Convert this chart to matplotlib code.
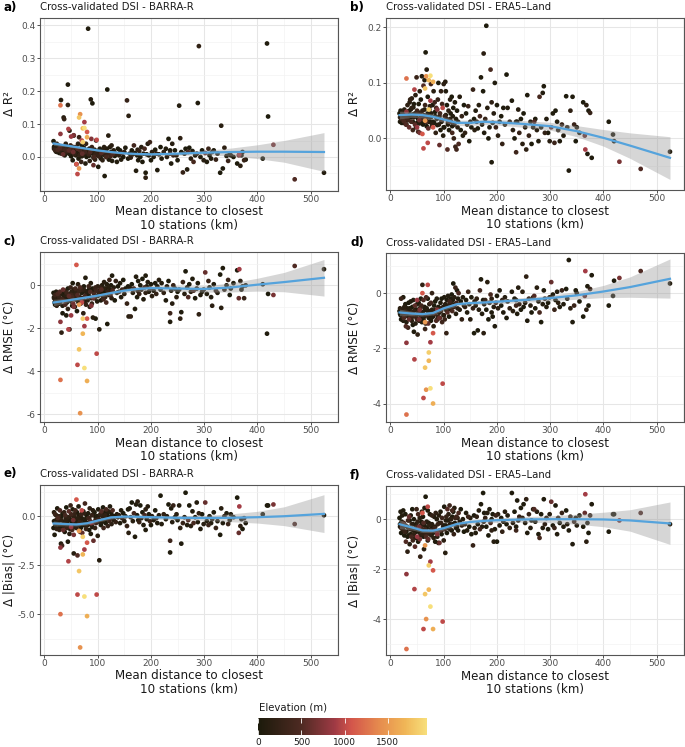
import numpy as np
import matplotlib
matplotlib.use('Agg')
import matplotlib.pyplot as plt
from matplotlib.colors import LinearSegmentedColormap, Normalize
from matplotlib.cm import ScalarMappable
from matplotlib.ticker import AutoMinorLocator, FormatStrFormatter, FixedLocator

plt.rcParams['font.family'] = 'DejaVu Sans'
plt.rcParams['axes.unicode_minus'] = False

# station mean distance to closest 10 stations (km)
dist = [30, 62, 67, 75, 80, 65, 98, 72, 72, 45,
        30, 80, 75, 65, 55, 50, 88, 92, 60, 70,
        17, 18, 19, 20, 21, 22, 23, 24, 25, 26,
        27, 28, 29, 31, 32, 33, 34, 35, 36, 37,
        38, 39, 40, 41, 42, 43, 44, 44, 46, 47,
        48, 49, 50, 51, 52, 53, 54, 55, 56, 57,
        58, 59, 60, 61, 62, 63, 64, 65, 66, 67,
        68, 69, 70, 71, 73, 74, 76, 77, 78, 79,
        81, 82, 83, 84, 85, 86, 87, 89, 90, 91,
        93, 94, 95, 96, 97, 99, 100, 101, 102, 103,
        104, 105, 106, 107, 108, 109, 110, 111, 112, 113,
        114, 115, 116, 117, 118, 119, 120, 121, 122, 123,
        124, 125, 126, 127, 128, 130, 132, 134, 136, 138,
        140, 142, 144, 146, 148, 150, 152, 155, 157, 158,
        160, 162, 164, 166, 168, 170, 172, 174, 175, 176,
        178, 180, 182, 184, 186, 188, 190, 190, 192, 194,
        196, 198, 200, 202, 205, 208, 210, 212, 215, 218,
        220, 224, 228, 230, 233, 236, 238, 240, 242, 245,
        236, 248, 250, 253, 255, 257, 260, 263, 265, 268,
        270, 272, 275, 278, 280, 283, 286, 288, 290, 293,
        296, 299, 302, 305, 308, 310, 313, 315, 318, 322,
        325, 330, 332, 335, 338, 342, 345, 348, 350, 355,
        362, 365, 366, 368, 370, 372, 375, 378, 410, 418,
        420, 430, 470, 525,
        18, 20, 22, 24, 26, 28, 30, 32, 34, 36,
        38, 40, 42, 46, 48, 50, 52, 54, 56, 58,
        60, 62, 64, 66, 68, 70, 72, 74, 76, 78,
        80, 84, 88, 92, 96, 100, 104, 108, 112, 116]

# station elevation (m)
elev = [1250, 1000, 1450, 1960, 1650, 1800, 1000, 1700, 1850, 950,
        800, 1100, 900, 1500, 700, 850, 750, 600, 1100, 1000,
        20, 150, 60, 300, 10, 90, 200, 40, 450, 120,
        250, 30, 500, 80, 180, 350, 15, 600, 100, 220,
        60, 400, 150, 20, 320, 90, 40, 200, 550, 130,
        70, 280, 10, 180, 420, 50, 650, 110, 240, 30,
        350, 90, 200, 15, 500, 140, 60, 300, 20, 450,
        100, 260, 30, 580, 170, 40, 380, 80, 230, 10,
        140, 60, 320, 20, 190, 470, 70, 260, 30, 120,
        400, 50, 210, 10, 330, 80, 150, 40, 280, 110,
        60, 240, 20, 520, 90, 170, 30, 360, 130, 50,
        200, 30, 420, 80, 10, 260, 120, 40, 300, 70,
        350, 20, 150, 60, 480, 100, 30, 220, 70, 10,
        180, 40, 90, 300, 20, 120, 60, 250, 30, 140,
        70, 200, 30, 110, 380, 50, 90, 20, 160, 60,
        240, 30, 120, 10, 70, 420, 50, 180, 20, 100,
        60, 300, 20, 150, 80, 30, 220, 40, 110, 10,
        80, 200, 40, 130, 20, 330, 60, 100, 250, 30,
        60, 140, 20, 80, 180, 40, 260, 110, 30, 70,
        500, 30, 120, 60, 420, 20, 90, 40, 200, 70,
        30, 130, 600, 50, 300, 20, 90, 160, 40, 250,
        70, 20, 120, 40, 180, 60, 300, 30, 90, 20,
        30, 600, 900, 150, 60, 20, 250, 40, 30, 60,
        30, 700, 500, 80,
        40, 10, 130, 60, 20, 210, 70, 30, 90, 15,
        50, 180, 20, 100, 40, 350, 10, 80, 160, 25,
        120, 30, 70, 240, 15, 90, 50, 190, 20, 130,
        60, 20, 110, 40, 260, 15, 80, 30, 140, 50]

d_r2_barra = [0.157, -0.052, 0.130, 0.088, 0.060, 0.120, 0.052, 0.087, 0.045, 0.085,
              0.070, 0.076, 0.106, -0.035, 0.066, 0.062, 0.055, -0.025, -0.022, 0.050,
              0.048, 0.025, 0.032, 0.021, 0.018, 0.028, 0.040, 0.015, 0.022, 0.035,
              0.020, 0.012, 0.027, 0.173, 0.010, 0.025, 0.030, 0.008, 0.120, 0.115,
              0.005, 0.022, 0.040, 0.014, 0.018, 0.030, 0.220, 0.158, 0.020, 0.080,
              0.012, 0.035, 0.002, 0.018, 0.026, -0.010, 0.015, 0.065, 0.008, 0.022,
              0.030, 0.005, -0.022, 0.014, 0.025, 0.040, -0.005, 0.060, 0.012, 0.020,
              0.018, -0.015, 0.035, 0.010, 0.005, 0.028, 0.015, -0.020, 0.040, 0.000,
              0.020, 0.390, 0.008, 0.025, -0.012, 0.015, 0.175, 0.030, 0.163, 0.010,
              0.000, 0.022, -0.008, 0.012, 0.050, 0.005, 0.018, -0.030, 0.002, 0.015,
              0.025, 0.010, -0.005, 0.012, 0.020, -0.010, 0.008, 0.015, 0.030, -0.058,
              0.005, 0.018, 0.000, 0.025, 0.205, 0.012, 0.065, -0.008, 0.010, 0.030,
              0.002, 0.015, 0.035, -0.012, 0.008, 0.020, 0.003, 0.010, -0.015, 0.025,
              0.005, 0.020, -0.008, 0.012, 0.000, 0.015, 0.028, 0.172, -0.005, 0.125,
              0.010, -0.002, 0.020, 0.008, 0.035, 0.012, -0.042, 0.005, 0.022, -0.010,
              0.018, 0.000, 0.030, -0.015, 0.010, 0.025, -0.048, -0.063, 0.008, 0.040,
              0.005, 0.045, -0.010, 0.015, 0.000, 0.022, 0.010, -0.040, 0.008, 0.030,
              -0.005, 0.015, 0.025, 0.000, 0.055, 0.010, -0.020, 0.040, 0.005, 0.020,
              0.020, 0.005, -0.010, 0.156, 0.057, 0.015, -0.047, 0.010, 0.025, -0.038,
              0.015, 0.028, -0.005, 0.018, -0.015, 0.005, 0.010, 0.164, 0.337, 0.000,
              0.020, -0.010, 0.012, -0.015, 0.025, 0.005, -0.005, 0.015, 0.020, -0.008,
              0.010, -0.048, 0.095, -0.035, 0.028, 0.003, -0.012, 0.010, 0.005, 0.000,
              -0.020, 0.005, 0.008, -0.027, 0.005, 0.015, -0.010, -0.008, -0.005, 0.345,
              0.123, 0.037, -0.068, -0.048,
              0.030, 0.024, 0.016, 0.034, 0.026, 0.019, 0.031, 0.022, 0.017, 0.029,
              0.021, 0.015, 0.027, 0.010, 0.024, 0.017, 0.020, 0.030, 0.013, 0.008,
              0.018, 0.011, 0.023, 0.006, 0.016, 0.002, 0.020, 0.012, 0.007, 0.017,
              0.010, 0.004, 0.014, -0.002, 0.009, 0.012, 0.003, 0.011, 0.006, 0.000]

d_r2_era5 = [0.108, -0.018, 0.112, 0.113, 0.102, 0.090, 0.055, 0.105, 0.052, 0.088,
             0.048, 0.020, 0.068, 0.032, 0.010, 0.020, 0.052, -0.012, 0.008, -0.008,
             0.045, 0.038, 0.050, 0.035, 0.028, 0.042, 0.046, 0.040, 0.031, 0.052,
             0.036, 0.044, 0.025, 0.040, 0.060, 0.033, 0.048, 0.020, 0.065, 0.070,
             0.052, 0.030, 0.072, 0.043, 0.015, 0.056, 0.062, 0.038, 0.025, 0.078,
             0.040, 0.110, 0.028, 0.048, 0.012, 0.062, 0.033, 0.085, 0.045, 0.070,
             0.035, 0.112, 0.050, 0.025, 0.095, 0.042, 0.105, 0.060, 0.155, 0.030,
             0.124, 0.038, 0.075, 0.018, 0.052, 0.030, 0.098, 0.045, 0.022, 0.060,
             0.085, 0.028, 0.065, 0.040, 0.010, 0.055, 0.035, 0.070, 0.100, 0.025,
             0.045, 0.015, 0.085, 0.030, 0.062, 0.005, 0.098, 0.020, 0.040, 0.102,
             0.085, 0.035, 0.060, -0.020, 0.025, 0.050, 0.015, 0.030, 0.070, 0.045,
             0.030, 0.075, 0.010, 0.040, 0.055, 0.000, 0.025, 0.065, -0.015, 0.035,
             -0.020, 0.050, 0.020, 0.030, -0.010, 0.075, 0.015, 0.040, 0.005, 0.060,
             0.010, 0.045, 0.025, 0.058, -0.005, 0.030, 0.020, 0.088, 0.035, 0.015,
             0.050, 0.030, 0.018, 0.060, 0.040, 0.110, 0.025, 0.085, 0.153, 0.010,
             0.035, 0.203, 0.055, 0.000, 0.020, 0.124, -0.043, 0.065, 0.028, 0.045,
             0.100, 0.020, 0.060, 0.005, 0.030, 0.040, -0.010, 0.055, 0.025, 0.115,
             0.055, 0.030, 0.068, 0.015, 0.000, -0.025, 0.030, 0.052, 0.010, 0.035,
             0.030, -0.010, 0.045, 0.020, -0.020, 0.078, 0.005, 0.030, -0.010, 0.020,
             0.030, 0.035, 0.015, -0.005, 0.075, 0.020, 0.082, 0.094, 0.010, 0.035,
             0.010, -0.005, 0.020, 0.045, -0.008, 0.050, 0.030, 0.015, -0.005, 0.025,
             0.005, 0.076, 0.020, -0.058, 0.050, 0.075, 0.025, -0.005, 0.020, 0.010,
             0.065, 0.005, -0.020, 0.060, -0.028, 0.050, 0.046, -0.035, 0.030, 0.007,
             -0.005, -0.042, -0.055, -0.024,
             0.030, 0.047, 0.036, 0.028, 0.044, 0.038, 0.025, 0.033, 0.049, 0.041,
             0.038, 0.055, 0.030, 0.045, 0.020, 0.050, 0.035, 0.027, 0.042, 0.032,
             0.040, 0.028, 0.052, 0.036, 0.022, 0.045, 0.030, 0.058, 0.038, 0.026,
             0.030, 0.048, 0.024, 0.040, 0.033, 0.020, 0.042, 0.028, 0.035, 0.022]

d_rmse_barra = [-4.40, -3.70, -5.95, -3.85, -4.45, -2.98, -3.18, -2.25, -1.55, -2.05,
                -1.70, -1.55, -1.90, -0.90, -1.00, -1.40, -0.95, -0.60, 0.95, -0.80,
                -0.35, -0.60, -0.80, -0.45, -0.70, -0.30, -0.95, -0.55, -0.40, -0.75,
                -0.50, -0.85, -0.30, -0.40, -2.20, -0.65, -1.30, -0.20, -0.55, -0.70,
                -0.25, -0.90, -0.45, -1.40, -0.35, -0.60, -0.15, -1.10, -0.50, -2.05,
                -0.40, -0.10, -0.75, -0.30, -0.55, 0.10, -0.85, -0.20, -0.45, -1.00,
                -0.15, -0.65, -0.30, -1.20, -0.45, 0.05, -0.80, -0.25, -0.55, -0.10,
                -0.60, -0.20, -0.35, -0.75, -1.30, -0.05, -0.50, 0.35, -0.90, -0.40,
                -0.70, -0.25, -0.05, -0.50, -1.00, -0.30, 0.10, -0.85, -0.15, -1.50,
                -0.40, -0.60, -0.15, -1.55, -0.25, -0.75, -0.05, -0.45, -0.30, -2.05,
                -0.35, -0.10, -0.70, -0.20, 0.00, -0.50, -0.25, -0.65, 0.15, -0.40,
                -0.55, -0.15, -0.80, 0.05, -1.80, -0.30, -0.10, -0.45, 0.25, -0.20,
                -0.45, 0.00, -0.60, 0.45, -0.25, -0.10, -0.70, 0.20, -0.35, -0.05,
                -0.30, 0.10, -0.55, -0.20, 0.25, -0.40, -0.15, -0.85, -0.05, -1.45,
                -0.10, -1.45, 0.05, -0.35, -0.15, -1.10, 0.40, -0.55, -0.25, 0.20,
                -0.40, 0.00, -0.20, 0.30, -0.65, -0.10, 0.45, -0.35, -0.05, 0.15,
                -0.30, -0.15, 0.05, -0.50, -0.25, 0.10, -0.40, -0.05, 0.25, -0.20,
                0.10, -0.35, -0.70, -0.05, 0.20, -1.30, -0.25, -0.85, 0.00, -0.15,
                -1.70, -0.55, -0.30, -0.20, -1.55, -1.25, 0.15, -0.40, 0.65, -0.10,
                -0.55, 0.05, -0.30, 0.30, -0.25, -0.60, -0.15, 0.10, -1.35, -0.45,
                -0.30, -0.20, 0.60, -0.40, 0.20, -0.10, -0.55, -0.95, 0.05, -0.25,
                -0.35, 0.50, -1.05, 0.80, -0.20, 0.00, 0.25, -0.45, -0.15, 0.10,
                0.70, -0.60, 0.75, 0.20, -0.20, -0.05, -0.60, 0.00, 0.05, -2.25,
                -0.40, -0.45, 0.90, 0.75,
                -0.55, -0.90, -0.65, -0.40, -0.85, -0.60, -0.75, -0.35, -0.95, -0.45,
                -0.60, -0.30, -0.80, -0.50, -0.70, -0.45, -0.95, -0.35, -0.65, -0.55,
                -0.40, -0.70, -0.25, -0.55, -0.85, -0.35, -0.60, -0.20, -0.75, -0.30,
                -0.45, -0.20, -0.60, -0.30, -0.10, -0.50, -0.25, -0.40, -0.15, -0.35]

d_rmse_era5 = [-4.40, -3.80, -3.50, -3.45, -4.00, -2.70, -3.28, -2.45, -2.15, -2.40,
               -1.80, -1.45, -1.78, -1.05, -0.60, -0.25, -0.60, -0.90, 0.00, 0.30,
               -0.65, -0.55, -0.80, -0.20, -0.60, -0.75, -0.70, -0.15, -0.90, -0.50,
               -0.85, -0.40, -1.20, -0.55, -0.70, -1.25, -0.35, -0.95, -0.60, -0.80,
               -0.30, -0.75, -1.00, -0.50, -0.85, -0.25, -1.40, -0.65, -0.45, -1.10,
               -0.60, -0.90, -0.40, -1.50, -0.70, -0.35, -0.95, -0.55, -0.80, -0.20,
               -0.45, -1.05, 0.30, -0.70, -0.25, -0.85, -0.50, -1.30, -0.60, -0.15,
               -0.55, -0.80, -0.20, -1.10, -0.40, -0.65, -0.35, -0.90, 0.00, -0.75,
               -1.20, -0.45, -0.75, -0.30, -0.60, -1.00, -0.20, -0.85, -0.50, -0.70,
               -0.90, -0.35, -0.65, -0.20, -1.05, -0.50, -0.80, -0.15, -0.95, -0.40,
               -0.60, -1.45, -0.25, -0.70, -0.10, -0.45, -0.85, -0.30, -0.55, -0.20,
               -0.35, -0.05, -0.65, -0.25, 0.35, -0.50, -0.15, -0.40, 0.20, -0.75,
               -0.35, 0.10, -0.55, -0.20, 0.00, -0.60, -0.30, -0.95, -0.15, -0.45,
               -0.50, -0.25, -0.70, 0.05, -0.40, -0.95, -0.15, -0.55, -1.45, -0.30,
               -0.45, -0.20, -1.35, -0.60, 0.10, 0.50, -0.75, -0.25, -1.45, -0.40,
               -0.25, -0.60, 0.40, -0.95, -0.35, -0.05, -0.70, -0.20, -0.85, -0.50,
               -1.20, -0.35, -0.10, -0.55, 0.10, -0.45, -0.25, -0.70, -0.15, -0.90,
               -0.30, -0.55, 0.05, -0.65, -0.20, -0.45, -0.75, 0.20, -0.40, -0.60,
               -0.25, 0.05, -0.50, -0.35, 0.60, -1.00, -0.20, -0.45, -0.70, -0.15,
               -0.10, -0.55, 0.20, -0.30, -0.70, -1.05, -0.40, 0.10, -0.20, -0.50,
               -0.35, -0.15, 0.40, -0.05, -0.60, -0.25, 0.05, -0.35, -0.50, 0.10,
               -0.40, 0.15, -0.20, 1.20, -0.55, -1.05, -0.45, 0.10, 0.00, -0.30,
               -0.85, -0.10, 0.80, -0.60, 0.25, -0.45, 0.15, 0.65, -0.45, -0.10,
               0.45, 0.55, 0.80, 0.35,
               -0.75, -0.95, -0.60, -1.00, -0.80, -0.65, -1.05, -0.75, -0.85, -0.55,
               -0.90, -0.70, -1.15, -0.80, -0.60, -0.95, -0.75, -1.00, -0.65, -0.85,
               -0.70, -0.95, -0.55, -1.10, -0.80, -0.65, -0.90, -0.75, -1.00, -0.60,
               -0.85, -0.65, -0.95, -0.70, -0.55, -0.80, -0.45, -0.60, -0.35, -0.50]

d_bias_barra = [-5.00, -4.00, -6.70, -4.10, -5.10, -2.80, -4.00, -1.95, -1.05, -2.30,
                -1.60, -1.35, -1.70, -0.75, -0.95, -0.55, -0.35, -1.25, 0.85, 0.30,
                -0.60, 0.20, -0.95, 0.10, -0.40, -0.20, -0.65, 0.40, -0.10, -0.30,
                0.00, -0.50, 0.30, -1.40, -0.20, -1.50, 0.15, -0.70, -0.45, 0.20,
                -0.80, 0.05, -0.25, 0.45, -0.60, -0.35, -1.30, -0.05, 0.25, -0.90,
                -0.15, 0.55, -0.45, 0.05, -0.70, 0.35, -0.20, -1.90, 0.10, -0.55,
                0.30, -0.30, -0.60, 0.20, -2.00, -0.10, 0.50, -0.40, 0.00, -0.80,
                -0.20, 0.10, -0.50, -0.85, 0.25, -0.35, 0.65, -0.15, -0.65, 0.05,
                -0.45, 0.15, -0.10, -0.70, 0.40, -0.25, -0.90, 0.05, -0.55, 0.30,
                -0.30, 0.20, -0.60, -0.05, -0.35, 0.00, -1.00, 0.35, -0.15, -2.25,
                -0.20, 0.10, -0.45, 0.25, -0.30, 0.00, 0.45, -0.60, -0.10, 0.20,
                0.05, -0.35, 0.35, -0.15, 0.10, -0.50, 0.25, -0.05, -0.25, 0.50,
                -0.10, 0.20, -0.40, 0.05, 0.30, -0.20, 0.00, -0.30, 0.10, -0.05,
                0.05, -0.35, 0.30, -0.10, 0.15, -0.25, 0.00, -0.50, 0.35, -0.85,
                0.40, -0.05, 0.70, -0.25, 0.15, -1.05, 0.60, 0.05, 0.75, -0.20,
                -0.30, 0.55, -0.10, 0.20, -0.45, 0.05, -0.70, 0.35, -0.15, 0.50,
                0.10, -0.25, -0.45, 0.00, -0.20, 0.30, -0.10, -0.35, 0.05, 1.05,
                -0.40, 0.10, -0.15, 0.00, 0.60, -1.25, 0.40, -0.30, 0.55, -0.05,
                -1.85, 0.10, -0.20, 0.55, -0.60, -1.40, -0.35, -0.05, 1.20, -0.45,
                -0.20, 0.55, -0.50, 0.25, -0.35, -0.05, 0.70, -0.30, 0.15, -0.65,
                0.10, -0.40, 0.70, -0.25, -0.45, 0.00, -0.35, -0.15, 0.20, -0.60,
                -0.25, -0.95, 0.40, -0.35, 0.00, 0.15, -0.40, -0.20, 0.10, -0.05,
                0.95, -0.85, 0.50, -0.50, -0.15, -0.65, -0.10, -0.35, 0.10, 0.55,
                0.55, 0.60, -0.40, 0.05,
                -0.25, -0.55, 0.05, -0.35, -0.15, -0.70, -0.45, 0.00, -0.60, -0.30,
                -0.40, -0.10, -0.50, -0.20, -0.65, 0.10, -0.30, -0.55, -0.05, -0.35,
                -0.15, -0.45, 0.05, -0.30, -0.60, -0.10, -0.40, 0.15, -0.25, -0.50,
                -0.35, -0.10, -0.45, 0.10, -0.20, 0.00, -0.30, 0.05, -0.15, 0.20]

d_bias_era5 = [-5.20, -4.40, -4.00, -3.50, -4.40, -3.00, -4.10, -2.82, -1.85, -2.80,
               -2.20, -2.05, -1.70, -1.05, -0.80, -0.70, -0.60, -0.95, 0.25, 0.50,
               0.05, -0.20, 0.30, -0.35, -0.10, 0.15, -0.40, 0.35, -0.15, -0.25,
               -0.50, 0.20, -0.90, -0.30, -1.30, -0.05, -0.65, 0.10, -1.00, -0.40,
               0.15, -0.70, -0.20, 0.40, -0.85, -0.45, 0.00, -0.60, -1.10, -0.35,
               -0.20, 0.40, -0.75, -0.10, 0.20, -0.50, -0.30, 0.05, -1.50, -0.25,
               -0.35, 0.30, -0.60, 0.10, -0.15, -1.20, 0.45, -0.40, 0.90, -0.70,
               -0.10, -0.55, 0.35, -0.80, -0.25, 0.20, -0.45, -0.65, 0.15, -0.30,
               -0.75, 0.10, -0.35, -0.90, 0.25, -0.50, 0.00, -0.20, -0.95, 0.15,
               -0.45, 0.30, -0.15, -0.60, 0.05, -0.30, -0.85, 0.50, -0.40, -1.35,
               -0.25, 0.10, -0.55, 0.40, -0.05, 0.20, -0.30, 0.55, -0.40, 0.00,
               0.00, -0.45, 0.35, -0.20, 0.30, -0.60, 0.45, -0.15, 0.05, -0.35,
               0.10, -0.30, 0.05, -0.45, 0.25, -0.10, 0.40, -0.25, 0.00, -0.50,
               -0.20, 0.25, -0.45, 0.10, -0.30, 0.05, -0.60, -1.05, 0.15, -0.35,
               -0.55, 0.10, -0.20, 0.35, -0.40, 0.60, -0.30, 1.05, -0.10, 0.25,
               0.05, -0.30, 0.25, -0.65, 0.40, -0.15, 0.00, -0.45, 0.20, -0.90,
               -0.40, 0.15, -0.90, 0.20, -0.25, 0.05, -0.50, -0.10, 0.30, -0.20,
               0.15, -0.35, 1.05, -0.15, 0.30, -0.45, 0.75, -0.05, 0.10, 0.45,
               -0.30, 0.05, 0.60, -0.15, 0.80, -0.55, 0.20, -0.35, -0.05, 0.40,
               0.40, -0.10, 0.30, -0.60, -0.75, 0.20, -0.35, 0.80, -0.20, 0.05,
               -0.40, 0.20, 0.70, -0.25, -0.35, 0.55, -0.60, 0.05, -0.15, 0.25,
               -0.30, 0.35, -0.20, -0.45, 0.10, -1.00, -0.10, 0.05, -0.25, 0.15,
               -0.30, 0.25, 1.00, -0.90, -0.15, -0.55, 0.15, 0.60, -0.50, 0.20,
               0.20, -0.05, 0.25, -0.20,
               -0.30, -0.55, -0.15, -0.45, -0.65, -0.25, -0.50, -0.70, -0.35, -0.05,
               -0.60, -0.40, -0.20, -0.75, -0.50, -0.30, -0.90, -0.45, -0.65, -0.10,
               -0.45, -0.70, -0.25, -0.55, -0.35, -0.85, -0.15, -0.60, -0.40, -0.20,
               -0.55, -0.30, -0.70, -0.15, -0.45, -0.25, -0.05, -0.35, -0.20, 0.10]

# smoothed trend and its confidence band
fit_x = [17, 40, 60, 80, 100, 125, 150, 175, 200, 250, 300, 350, 400, 450, 525]
fit_r2_barra = [0.041, 0.035, 0.030, 0.025, 0.020, 0.015, 0.011, 0.009, 0.008, 0.010, 0.013, 0.015, 0.016, 0.016, 0.015]
lo_r2_barra = [0.035, 0.031, 0.027, 0.022, 0.017, 0.012, 0.008, 0.005, 0.004, 0.005, 0.006, 0.003, -0.005, -0.016, -0.044]
hi_r2_barra = [0.047, 0.039, 0.033, 0.028, 0.023, 0.018, 0.014, 0.013, 0.012, 0.015, 0.020, 0.027, 0.037, 0.050, 0.074]
fit_r2_era5 = [0.042, 0.043, 0.042, 0.039, 0.034, 0.028, 0.028, 0.030, 0.029, 0.026, 0.022, 0.013, 0.001, -0.013, -0.035]
lo_r2_era5 = [0.035, 0.038, 0.037, 0.034, 0.029, 0.023, 0.023, 0.025, 0.024, 0.020, 0.015, 0.003, -0.014, -0.036, -0.074]
hi_r2_era5 = [0.049, 0.048, 0.047, 0.044, 0.039, 0.033, 0.033, 0.035, 0.034, 0.032, 0.029, 0.023, 0.016, 0.010, 0.003]
fit_rmse_barra = [-0.80, -0.72, -0.64, -0.56, -0.48, -0.36, -0.25, -0.17, -0.13, -0.15, -0.17, -0.10, 0.03, 0.15, 0.35]
lo_rmse_barra = [-0.95, -0.82, -0.73, -0.64, -0.56, -0.45, -0.35, -0.28, -0.25, -0.28, -0.32, -0.31, -0.27, -0.30, -0.50]
hi_rmse_barra = [-0.65, -0.62, -0.55, -0.48, -0.40, -0.27, -0.15, -0.06, -0.01, -0.02, -0.02, 0.11, 0.33, 0.60, 1.20]
fit_rmse_era5 = [-0.70, -0.74, -0.76, -0.72, -0.55, -0.40, -0.36, -0.34, -0.31, -0.25, -0.18, -0.08, 0.06, 0.22, 0.52]
lo_rmse_era5 = [-0.82, -0.82, -0.83, -0.79, -0.62, -0.47, -0.43, -0.42, -0.39, -0.34, -0.28, -0.22, -0.16, -0.15, -0.18]
hi_rmse_era5 = [-0.58, -0.66, -0.69, -0.65, -0.48, -0.33, -0.29, -0.26, -0.23, -0.16, -0.08, 0.06, 0.28, 0.59, 1.24]
fit_bias_barra = [-0.37, -0.40, -0.42, -0.36, -0.22, -0.06, -0.02, -0.03, -0.05, -0.08, -0.09, -0.08, -0.05, 0.00, 0.12]
lo_bias_barra = [-0.50, -0.49, -0.50, -0.44, -0.30, -0.14, -0.10, -0.12, -0.14, -0.19, -0.22, -0.28, -0.35, -0.48, -0.83]
hi_bias_barra = [-0.24, -0.31, -0.34, -0.28, -0.14, 0.02, 0.06, 0.06, 0.04, 0.03, 0.04, 0.12, 0.25, 0.48, 1.10]
fit_bias_era5 = [-0.20, -0.33, -0.45, -0.46, -0.36, -0.19, -0.11, -0.07, -0.04, -0.01, 0.00, 0.00, -0.01, -0.05, -0.17]
lo_bias_era5 = [-0.38, -0.43, -0.53, -0.54, -0.44, -0.27, -0.20, -0.16, -0.13, -0.12, -0.14, -0.20, -0.30, -0.48, -1.01]
hi_bias_era5 = [-0.02, -0.23, -0.37, -0.38, -0.28, -0.11, -0.02, 0.02, 0.05, 0.10, 0.14, 0.20, 0.28, 0.38, 0.69]

W, H = 685, 747
fig = plt.figure(figsize=(W / 100, H / 100), dpi=100)


def px_axes(l, t, r, b):
    return fig.add_axes([l / W, 1 - b / H, (r - l) / W, (b - t) / H])


cmap = LinearSegmentedColormap.from_list('elev', [
    (0.0, '#1c1a0b'), (0.25, '#4d2a22'), (0.45, '#9e3a44'), (0.55, '#d3554b'),
    (0.72, '#e68c4e'), (0.87, '#f0b657'), (1.0, '#f7df7b')])
norm = Normalize(vmin=0, vmax=max(elev))

x = np.array(dist)
el = np.array(elev)
order = np.argsort(el, kind='stable')

titles = ['Cross-validated DSI - BARRA-R', 'Cross-validated DSI - ERA5\u2013Land']
panels = [
    dict(tag='a)', box=(40, 17.5, 337.5, 190.5), y=d_r2_barra, fit=fit_r2_barra, lo=lo_r2_barra, hi=hi_r2_barra,
         ylim=(-0.102, 0.424), ticks=[0.0, 0.1, 0.2, 0.3, 0.4], fmt='%.1f', ylabel='\u0394 R\u00b2', title=titles[0]),
    dict(tag='b)', box=(386, 18, 683.5, 190), y=d_r2_era5, fit=fit_r2_era5, lo=lo_r2_era5, hi=hi_r2_era5,
         ylim=(-0.093, 0.217), ticks=[0.0, 0.1, 0.2], fmt='%.1f', ylabel='\u0394 R\u00b2', title=titles[1]),
    dict(tag='c)', box=(40, 252, 337.5, 422), y=d_rmse_barra, fit=fit_rmse_barra, lo=lo_rmse_barra, hi=hi_rmse_barra,
         ylim=(-6.36, 1.55), ticks=[-6, -4, -2, 0], fmt='%d', ylabel='\u0394 RMSE (\u00b0C)', title=titles[0]),
    dict(tag='d)', box=(386, 253, 683.5, 422), y=d_rmse_era5, fit=fit_rmse_era5, lo=lo_rmse_era5, hi=hi_rmse_era5,
         ylim=(-4.67, 1.455), ticks=[-4, -2, 0], fmt='%d', ylabel='\u0394 RMSE (\u00b0C)', title=titles[1]),
    dict(tag='e)', box=(40, 484.5, 337.5, 654.5), y=d_bias_barra, fit=fit_bias_barra, lo=lo_bias_barra, hi=hi_bias_barra,
         ylim=(-7.06, 1.62), ticks=[-5.0, -2.5, 0.0], fmt='%.1f', ylabel='\u0394 |Bias| (\u00b0C)', title=titles[0]),
    dict(tag='f)', box=(386, 486, 683.5, 655), y=d_bias_era5, fit=fit_bias_era5, lo=lo_bias_era5, hi=hi_bias_era5,
         ylim=(-5.44, 1.33), ticks=[-4, -2, 0], fmt='%d', ylabel='\u0394 |Bias| (\u00b0C)', title=titles[1]),
]

for i, p in enumerate(panels):
    l, t, r, b = p['box']
    ax = px_axes(l, t, r, b)
    y = np.array(p['y'])
    ax.scatter(x[order], y[order], c=el[order], cmap=cmap, norm=norm, s=11.5, linewidths=0, zorder=2)
    ax.fill_between(fit_x, p['lo'], p['hi'], color='#999999', alpha=0.4, linewidth=0, zorder=3)
    ax.plot(fit_x, p['fit'], color='#55a3dc', lw=1.6, zorder=4)

    ax.set_xlim(-8.4, 550.4)
    ax.set_ylim(*p['ylim'])
    ax.xaxis.set_major_locator(FixedLocator([0, 100, 200, 300, 400, 500]))
    ax.xaxis.set_minor_locator(AutoMinorLocator(2))
    ax.yaxis.set_major_locator(FixedLocator(p['ticks']))
    ax.yaxis.set_major_formatter(FormatStrFormatter(p['fmt']))
    ax.yaxis.set_minor_locator(AutoMinorLocator(2))
    ax.grid(True, which='major', color='#e6e6e6', lw=0.75, zorder=0)
    ax.grid(True, which='minor', color='#f2f2f2', lw=0.45, zorder=0)
    ax.set_axisbelow(True)
    for s in ax.spines.values():
        s.set_color('#555555')
        s.set_linewidth(0.8)
    ax.tick_params(which='major', length=2.0, width=0.6, color='#333333', labelsize=6.5,
                   labelcolor='#4d4d4d', pad=1.2)
    ax.tick_params(which='minor', length=0)

    ax.set_xlabel('Mean distance to closest\n10 stations (km)', fontsize=8.6, color='#1a1a1a',
                  labelpad=1.0, linespacing=1.05)
    ax.set_ylabel(p['ylabel'], fontsize=8.6, color='#1a1a1a')
    # right (baseline) edge of the rotated label, in pixels
    lab_x = 16 if i % 2 == 0 else 361
    ax.yaxis.set_label_coords((lab_x - l) / (r - l), 0.5)

    fig.text((3 if i % 2 == 0 else 350) / W, 1 - (t - 10.5) / H, p['tag'], fontsize=8.6,
             fontweight='bold', va='center', ha='left')
    fig.text(l / W, 1 - (t - 10.5) / H, p['title'], fontsize=7.3, color='#1a1a1a',
             va='center', ha='left')

# elevation colour bar
cax = px_axes(258.3, 717.7, 427.3, 735)
cb = fig.colorbar(ScalarMappable(norm=norm, cmap=cmap), cax=cax, orientation='horizontal',
                  ticks=[0, 500, 1000, 1500])
cb.outline.set_visible(False)
cax.tick_params(direction='in', length=3.5, width=0.6, color='white', top=True, bottom=True,
                labelsize=6.5, labelcolor='#1a1a1a', pad=2.0)
fig.text(259 / W, 1 - 708 / H, 'Elevation (m)', fontsize=7.3, va='center', ha='left', color='#1a1a1a')

fig.savefig('out.png', dpi=100)
